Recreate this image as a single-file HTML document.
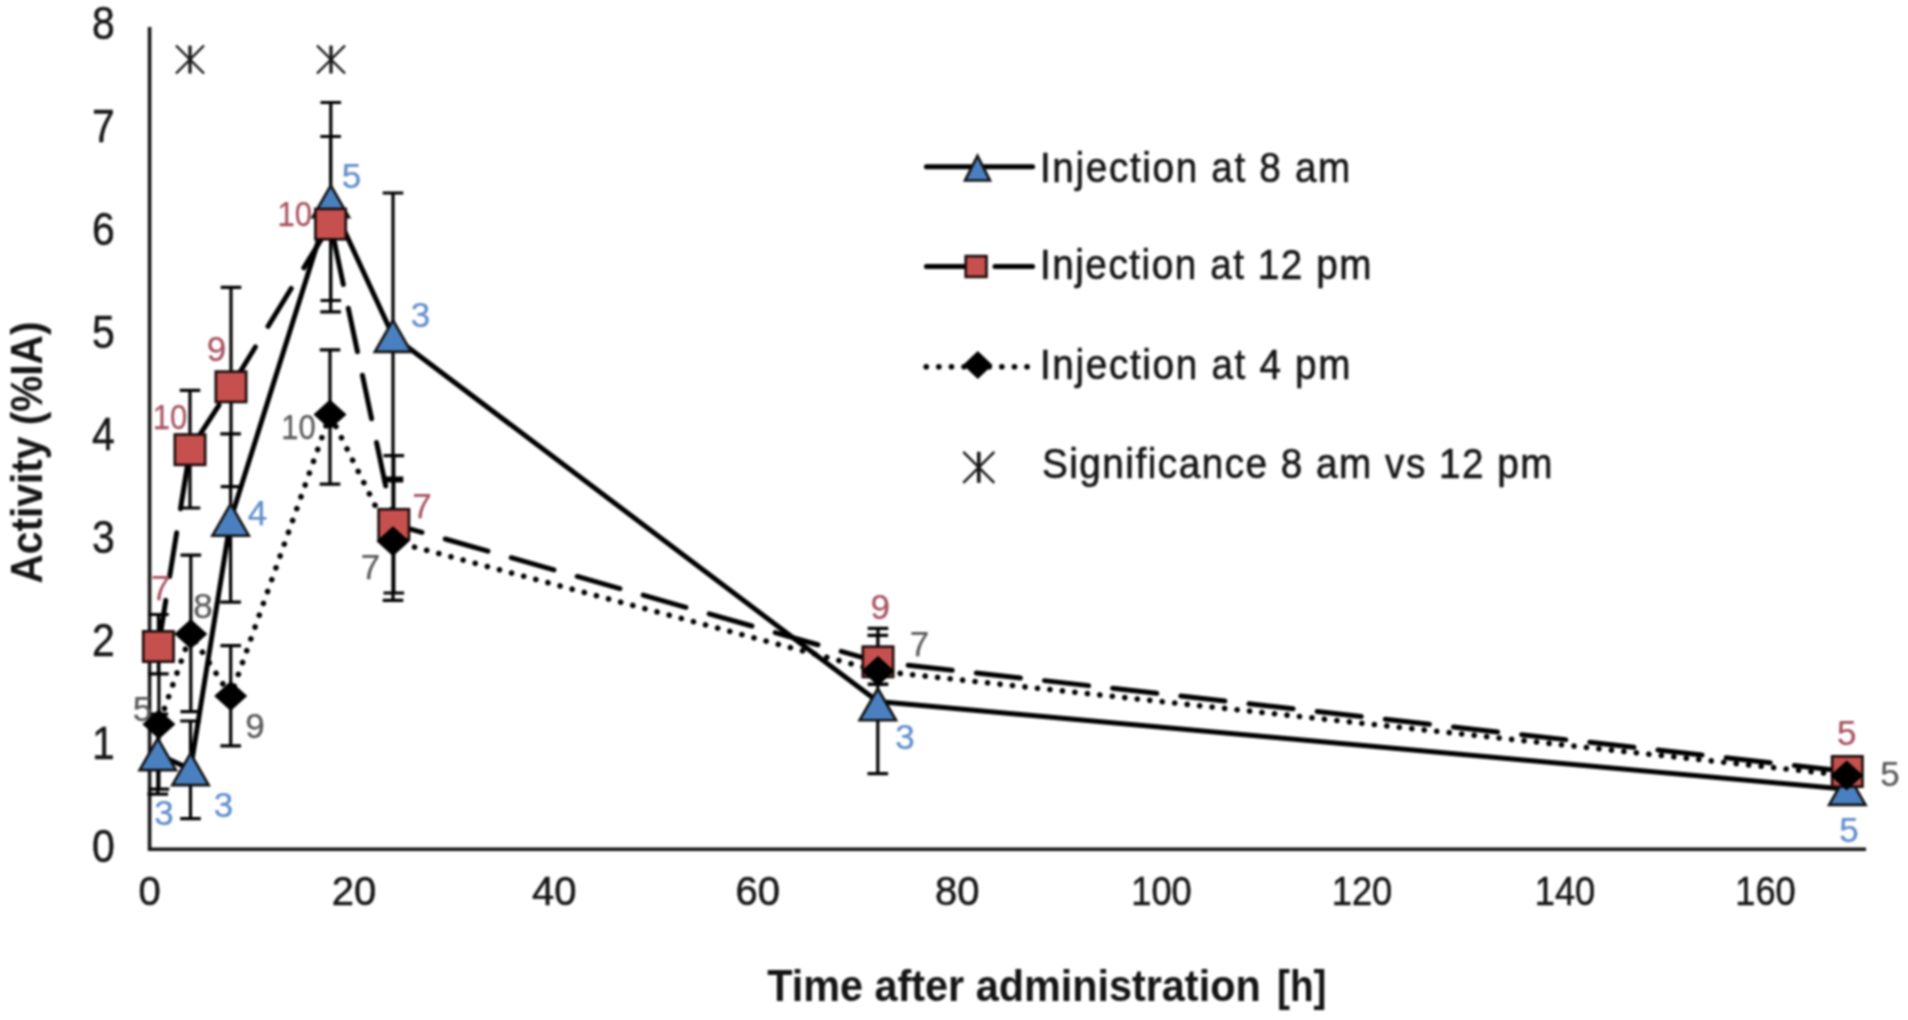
<!DOCTYPE html><html><head><meta charset="utf-8"><title>Activity vs time after administration</title><style>html,body{margin:0;padding:0;background:#fff;overflow:hidden;}svg{display:block;filter:blur(1px);}</style></head><body>
<svg width="1908" height="1020" viewBox="0 0 1908 1020">
<rect width="1908" height="1020" fill="#fff"/>
<path d="M149.6 27 V849.3 H1866" fill="none" stroke="#151515" stroke-width="3.6"/>
<text x="114.8" y="861.6" font-family="Liberation Sans, Arial, sans-serif" font-size="46" text-anchor="end" fill="#151515" stroke="#151515" stroke-width="0.5" textLength="22.8" lengthAdjust="spacingAndGlyphs">0</text>
<text x="114.8" y="758.8" font-family="Liberation Sans, Arial, sans-serif" font-size="46" text-anchor="end" fill="#151515" stroke="#151515" stroke-width="0.5" textLength="22.8" lengthAdjust="spacingAndGlyphs">1</text>
<text x="114.8" y="656.0" font-family="Liberation Sans, Arial, sans-serif" font-size="46" text-anchor="end" fill="#151515" stroke="#151515" stroke-width="0.5" textLength="22.8" lengthAdjust="spacingAndGlyphs">2</text>
<text x="114.8" y="553.2" font-family="Liberation Sans, Arial, sans-serif" font-size="46" text-anchor="end" fill="#151515" stroke="#151515" stroke-width="0.5" textLength="22.8" lengthAdjust="spacingAndGlyphs">3</text>
<text x="114.8" y="450.4" font-family="Liberation Sans, Arial, sans-serif" font-size="46" text-anchor="end" fill="#151515" stroke="#151515" stroke-width="0.5" textLength="22.8" lengthAdjust="spacingAndGlyphs">4</text>
<text x="114.8" y="347.6" font-family="Liberation Sans, Arial, sans-serif" font-size="46" text-anchor="end" fill="#151515" stroke="#151515" stroke-width="0.5" textLength="22.8" lengthAdjust="spacingAndGlyphs">5</text>
<text x="114.8" y="244.8" font-family="Liberation Sans, Arial, sans-serif" font-size="46" text-anchor="end" fill="#151515" stroke="#151515" stroke-width="0.5" textLength="22.8" lengthAdjust="spacingAndGlyphs">6</text>
<text x="114.8" y="142.0" font-family="Liberation Sans, Arial, sans-serif" font-size="46" text-anchor="end" fill="#151515" stroke="#151515" stroke-width="0.5" textLength="22.8" lengthAdjust="spacingAndGlyphs">7</text>
<text x="114.8" y="39.2" font-family="Liberation Sans, Arial, sans-serif" font-size="46" text-anchor="end" fill="#151515" stroke="#151515" stroke-width="0.5" textLength="22.8" lengthAdjust="spacingAndGlyphs">8</text>
<text x="149.6" y="904.6" font-family="Liberation Sans, Arial, sans-serif" font-size="40" text-anchor="middle" fill="#151515" stroke="#151515" stroke-width="0.5">0</text>
<text x="353.9" y="904.6" font-family="Liberation Sans, Arial, sans-serif" font-size="40" text-anchor="middle" fill="#151515" stroke="#151515" stroke-width="0.5">20</text>
<text x="554.3" y="904.6" font-family="Liberation Sans, Arial, sans-serif" font-size="40" text-anchor="middle" fill="#151515" stroke="#151515" stroke-width="0.5">40</text>
<text x="757.7" y="904.6" font-family="Liberation Sans, Arial, sans-serif" font-size="40" text-anchor="middle" fill="#151515" stroke="#151515" stroke-width="0.5">60</text>
<text x="957.2" y="904.6" font-family="Liberation Sans, Arial, sans-serif" font-size="40" text-anchor="middle" fill="#151515" stroke="#151515" stroke-width="0.5">80</text>
<text x="1161.5" y="904.6" font-family="Liberation Sans, Arial, sans-serif" font-size="40" text-anchor="middle" fill="#151515" stroke="#151515" stroke-width="0.5" textLength="60.5" lengthAdjust="spacingAndGlyphs">100</text>
<text x="1362.0" y="904.6" font-family="Liberation Sans, Arial, sans-serif" font-size="40" text-anchor="middle" fill="#151515" stroke="#151515" stroke-width="0.5" textLength="60.5" lengthAdjust="spacingAndGlyphs">120</text>
<text x="1565.0" y="904.6" font-family="Liberation Sans, Arial, sans-serif" font-size="40" text-anchor="middle" fill="#151515" stroke="#151515" stroke-width="0.5" textLength="60.5" lengthAdjust="spacingAndGlyphs">140</text>
<text x="1765.5" y="904.6" font-family="Liberation Sans, Arial, sans-serif" font-size="40" text-anchor="middle" fill="#151515" stroke="#151515" stroke-width="0.5" textLength="60.5" lengthAdjust="spacingAndGlyphs">160</text>
<text x="767.2" y="1000.8" font-family="Liberation Sans, Arial, sans-serif" font-size="44" font-weight="bold" fill="#151515" textLength="493.5" lengthAdjust="spacingAndGlyphs">Time after administration</text>
<text x="1277" y="1000.8" font-family="Liberation Sans, Arial, sans-serif" font-size="44" font-weight="bold" fill="#151515" textLength="49.5" lengthAdjust="spacingAndGlyphs">[h]</text>
<text transform="translate(41.5 583.5) rotate(-90)" x="0" y="0" style="white-space:pre" font-family="Liberation Sans, Arial, sans-serif" font-size="44" font-weight="bold" fill="#151515" textLength="262" lengthAdjust="spacingAndGlyphs">Activity (%IA)</text>
<polyline points="157.8,754.2 190.5,769.2 230.6,519.8 330.8,201.2 393.0,336.0 877.8,701.6 1847.3,789.3" fill="none" stroke="#000" stroke-width="5.0" stroke-linejoin="round" stroke-linecap="round"/>
<polyline points="158.4,646.5 190.0,449.7 231.0,386.8 330.6,224.1 393.8,524.4 878.0,661.8 1847.3,771.5" fill="none" stroke="#000" stroke-width="5.0" stroke-dasharray="44.4 24.2" stroke-dashoffset="66.3" stroke-linecap="round" stroke-linejoin="round"/>
<polyline points="158.9,724.2 190.8,634.1 230.7,696.1 330.0,414.6 393.0,541.3 878.0,671.0 1846.7,775.5" fill="none" stroke="#000" stroke-width="5.6" stroke-dasharray="0.1 12.45" stroke-dashoffset="8.45" stroke-linecap="round" stroke-linejoin="round"/>
<path d="M157.8 714.2V794.2M147.5 714.2h20.6M147.5 794.2h20.6M190.5 721.0V818.6M180.2 721.0h20.6M180.2 818.6h20.6M230.6 433.8V602.2M220.3 433.8h20.6M220.3 602.2h20.6M330.8 102.5V300.5M320.5 102.5h20.6M320.5 300.5h20.6M393.0 193.0V478.0M382.7 193.0h20.6M382.7 478.0h20.6M877.8 635.4V773.6M867.5 635.4h20.6M867.5 773.6h20.6M158.4 614.5V673.8M148.1 614.5h20.6M148.1 673.8h20.6M190.0 390.4V508.0M179.7 390.4h20.6M179.7 508.0h20.6M231.0 287.3V486.6M220.7 287.3h20.6M220.7 486.6h20.6M330.6 136.5V311.8M320.3 136.5h20.6M320.3 311.8h20.6M393.8 455.7V593.0M383.5 455.7h20.6M383.5 593.0h20.6M878.0 628.4V684.3M867.7 628.4h20.6M867.7 684.3h20.6M158.9 659.2V789.2M148.6 659.2h20.6M148.6 789.2h20.6M190.8 555.1V711.6M180.5 555.1h20.6M180.5 711.6h20.6M230.7 645.7V745.9M220.4 645.7h20.6M220.4 745.9h20.6M330.0 349.9V484.2M319.7 349.9h20.6M319.7 484.2h20.6M393.0 481.0V600.3M382.7 481.0h20.6M382.7 600.3h20.6M878.0 658.0V684.0M867.7 658.0h20.6M867.7 684.0h20.6" fill="none" stroke="#000" stroke-width="3.2"/>
<path d="M157.8 738.3L176.0 770.1H139.6Z" fill="#4A80C0" stroke="#111" stroke-width="2.6" stroke-linejoin="miter" stroke-miterlimit="8"/>
<path d="M190.5 753.3L208.7 785.1H172.3Z" fill="#4A80C0" stroke="#111" stroke-width="2.6" stroke-linejoin="miter" stroke-miterlimit="8"/>
<path d="M230.6 503.9L248.8 535.7H212.4Z" fill="#4A80C0" stroke="#111" stroke-width="2.6" stroke-linejoin="miter" stroke-miterlimit="8"/>
<path d="M330.8 185.3L349.0 217.1H312.6Z" fill="#4A80C0" stroke="#111" stroke-width="2.6" stroke-linejoin="miter" stroke-miterlimit="8"/>
<path d="M393.0 320.1L411.2 351.9H374.8Z" fill="#4A80C0" stroke="#111" stroke-width="2.6" stroke-linejoin="miter" stroke-miterlimit="8"/>
<path d="M877.8 688.5L896.0 720.3H859.6Z" fill="#4A80C0" stroke="#111" stroke-width="2.6" stroke-linejoin="miter" stroke-miterlimit="8"/>
<path d="M1847.3 773.1L1865.5 804.9H1829.1Z" fill="#4A80C0" stroke="#111" stroke-width="2.6" stroke-linejoin="miter" stroke-miterlimit="8"/>
<rect x="143.2" y="631.3" width="30.4" height="30.4" fill="#C6504E" stroke="#1a0a0a" stroke-width="2.6"/>
<rect x="174.8" y="434.5" width="30.4" height="30.4" fill="#C6504E" stroke="#1a0a0a" stroke-width="2.6"/>
<rect x="215.8" y="371.6" width="30.4" height="30.4" fill="#C6504E" stroke="#1a0a0a" stroke-width="2.6"/>
<rect x="315.4" y="208.9" width="30.4" height="30.4" fill="#C6504E" stroke="#1a0a0a" stroke-width="2.6"/>
<rect x="378.6" y="509.2" width="30.4" height="30.4" fill="#C6504E" stroke="#1a0a0a" stroke-width="2.6"/>
<rect x="862.8" y="646.6" width="30.4" height="30.4" fill="#C6504E" stroke="#1a0a0a" stroke-width="2.6"/>
<rect x="1832.1" y="756.3" width="30.4" height="30.4" fill="#C6504E" stroke="#1a0a0a" stroke-width="2.6"/>
<path d="M158.9 709.2L175.4 724.2L158.9 739.2L142.4 724.2Z" fill="#000"/>
<path d="M190.8 619.1L207.3 634.1L190.8 649.1L174.3 634.1Z" fill="#000"/>
<path d="M230.7 681.1L247.2 696.1L230.7 711.1L214.2 696.1Z" fill="#000"/>
<path d="M330.0 399.6L346.5 414.6L330.0 429.6L313.5 414.6Z" fill="#000"/>
<path d="M393.0 526.3L409.5 541.3L393.0 556.3L376.5 541.3Z" fill="#000"/>
<path d="M878.0 656.0L894.5 671.0L878.0 686.0L861.5 671.0Z" fill="#000"/>
<path d="M1846.7 760.5L1863.2 775.5L1846.7 790.5L1830.2 775.5Z" fill="#000"/>
<path d="M176.0 45.5L204.0 73.5M204.0 45.5L176.0 73.5" stroke="#151515" stroke-width="2.4" fill="none"/><path d="M190.0 45.5V73.5" stroke="#151515" stroke-width="3.2" fill="none"/>
<path d="M317.0 45.5L345.0 73.5M345.0 45.5L317.0 73.5" stroke="#151515" stroke-width="2.4" fill="none"/><path d="M331.0 45.5V73.5" stroke="#151515" stroke-width="3.2" fill="none"/>
<text x="164.0" y="824.5" font-family="Liberation Sans, Arial, sans-serif" font-size="35" text-anchor="middle" fill="#5F8CCB" stroke="#5F8CCB" stroke-width="0.25">3</text>
<text x="223.5" y="816.5" font-family="Liberation Sans, Arial, sans-serif" font-size="35" text-anchor="middle" fill="#5F8CCB" stroke="#5F8CCB" stroke-width="0.25">3</text>
<text x="257.4" y="524.5" font-family="Liberation Sans, Arial, sans-serif" font-size="35" text-anchor="middle" fill="#5F8CCB" stroke="#5F8CCB" stroke-width="0.25">4</text>
<text x="351.6" y="188.3" font-family="Liberation Sans, Arial, sans-serif" font-size="35" text-anchor="middle" fill="#5F8CCB" stroke="#5F8CCB" stroke-width="0.25">5</text>
<text x="420.5" y="326.8" font-family="Liberation Sans, Arial, sans-serif" font-size="35" text-anchor="middle" fill="#5F8CCB" stroke="#5F8CCB" stroke-width="0.25">3</text>
<text x="905.0" y="749.0" font-family="Liberation Sans, Arial, sans-serif" font-size="35" text-anchor="middle" fill="#5F8CCB" stroke="#5F8CCB" stroke-width="0.25">3</text>
<text x="1848.9" y="841.9" font-family="Liberation Sans, Arial, sans-serif" font-size="35" text-anchor="middle" fill="#5F8CCB" stroke="#5F8CCB" stroke-width="0.25">5</text>
<text x="160.8" y="600.0" font-family="Liberation Sans, Arial, sans-serif" font-size="35" text-anchor="middle" fill="#A6515F" stroke="#A6515F" stroke-width="0.25">7</text>
<text x="170.0" y="429.3" font-family="Liberation Sans, Arial, sans-serif" font-size="35" text-anchor="middle" fill="#A6515F" stroke="#A6515F" stroke-width="0.25" textLength="34.5" lengthAdjust="spacingAndGlyphs">10</text>
<text x="216.4" y="360.5" font-family="Liberation Sans, Arial, sans-serif" font-size="35" text-anchor="middle" fill="#A6515F" stroke="#A6515F" stroke-width="0.25">9</text>
<text x="294.7" y="226.0" font-family="Liberation Sans, Arial, sans-serif" font-size="35" text-anchor="middle" fill="#A6515F" stroke="#A6515F" stroke-width="0.25" textLength="34.5" lengthAdjust="spacingAndGlyphs">10</text>
<text x="422.0" y="517.8" font-family="Liberation Sans, Arial, sans-serif" font-size="35" text-anchor="middle" fill="#A6515F" stroke="#A6515F" stroke-width="0.25">7</text>
<text x="880.3" y="619.3" font-family="Liberation Sans, Arial, sans-serif" font-size="35" text-anchor="middle" fill="#A6515F" stroke="#A6515F" stroke-width="0.25">9</text>
<text x="1846.7" y="744.9" font-family="Liberation Sans, Arial, sans-serif" font-size="35" text-anchor="middle" fill="#A6515F" stroke="#A6515F" stroke-width="0.25">5</text>
<text x="142.5" y="720.5" font-family="Liberation Sans, Arial, sans-serif" font-size="35" text-anchor="middle" fill="#585858" stroke="#585858" stroke-width="0.25">5</text>
<text x="203.0" y="618.0" font-family="Liberation Sans, Arial, sans-serif" font-size="35" text-anchor="middle" fill="#585858" stroke="#585858" stroke-width="0.25">8</text>
<text x="255.0" y="738.0" font-family="Liberation Sans, Arial, sans-serif" font-size="35" text-anchor="middle" fill="#585858" stroke="#585858" stroke-width="0.25">9</text>
<text x="298.4" y="438.5" font-family="Liberation Sans, Arial, sans-serif" font-size="35" text-anchor="middle" fill="#585858" stroke="#585858" stroke-width="0.25" textLength="34.5" lengthAdjust="spacingAndGlyphs">10</text>
<text x="370.4" y="579.3" font-family="Liberation Sans, Arial, sans-serif" font-size="35" text-anchor="middle" fill="#585858" stroke="#585858" stroke-width="0.25">7</text>
<text x="919.4" y="656.3" font-family="Liberation Sans, Arial, sans-serif" font-size="35" text-anchor="middle" fill="#585858" stroke="#585858" stroke-width="0.25">7</text>
<text x="1889.9" y="785.9" font-family="Liberation Sans, Arial, sans-serif" font-size="35" text-anchor="middle" fill="#585858" stroke="#585858" stroke-width="0.25">5</text>
<path d="M926.4 166.7H1032.6" stroke="#000" stroke-width="5" stroke-linecap="round"/>
<path d="M977.5 155.9L990.0 180.5H965.0Z" fill="#4A80C0" stroke="#111" stroke-width="2.6" stroke-linejoin="miter" stroke-miterlimit="8"/>
<path d="M926.4 266.5H1032.6" stroke="#000" stroke-width="5" stroke-linecap="round" stroke-dasharray="44.4 24.2"/>
<rect x="965.7" y="256.1" width="20.8" height="20.8" fill="#C6504E" stroke="#1a0a0a" stroke-width="2.6"/>
<path d="M926.2 366.8H1028.5" stroke="#000" stroke-width="5.6" stroke-dasharray="0.1 12.5" stroke-linecap="round"/>
<path d="M977.8 351.0L992.5 365.0L977.8 379.0L963.0 365.0Z" fill="#000"/>
<path d="M963.3 451.8L994.3 482.8M994.3 451.8L963.3 482.8" stroke="#151515" stroke-width="2.4" fill="none"/><path d="M978.8 451.8V482.8" stroke="#151515" stroke-width="3.6" fill="none"/>
<text transform="translate(1039.9 182) scale(0.9 1)" x="0" y="0" font-family="Liberation Sans, Arial, sans-serif" font-size="43" fill="#151515" stroke="#151515" stroke-width="0.6" textLength="344.9" lengthAdjust="spacing">Injection at 8 am</text>
<text transform="translate(1039.9 278.7) scale(0.9 1)" x="0" y="0" font-family="Liberation Sans, Arial, sans-serif" font-size="43" fill="#151515" stroke="#151515" stroke-width="0.6" textLength="368.4" lengthAdjust="spacing">Injection at 12 pm</text>
<text transform="translate(1039.9 378.6) scale(0.9 1)" x="0" y="0" font-family="Liberation Sans, Arial, sans-serif" font-size="43" fill="#151515" stroke="#151515" stroke-width="0.6" textLength="345.0" lengthAdjust="spacing">Injection at 4 pm</text>
<text transform="translate(1041.9 477.8) scale(0.9 1)" x="0" y="0" font-family="Liberation Sans, Arial, sans-serif" font-size="43" fill="#151515" stroke="#151515" stroke-width="0.6" textLength="567.4" lengthAdjust="spacing">Significance 8 am vs 12 pm</text>
</svg></body></html>
